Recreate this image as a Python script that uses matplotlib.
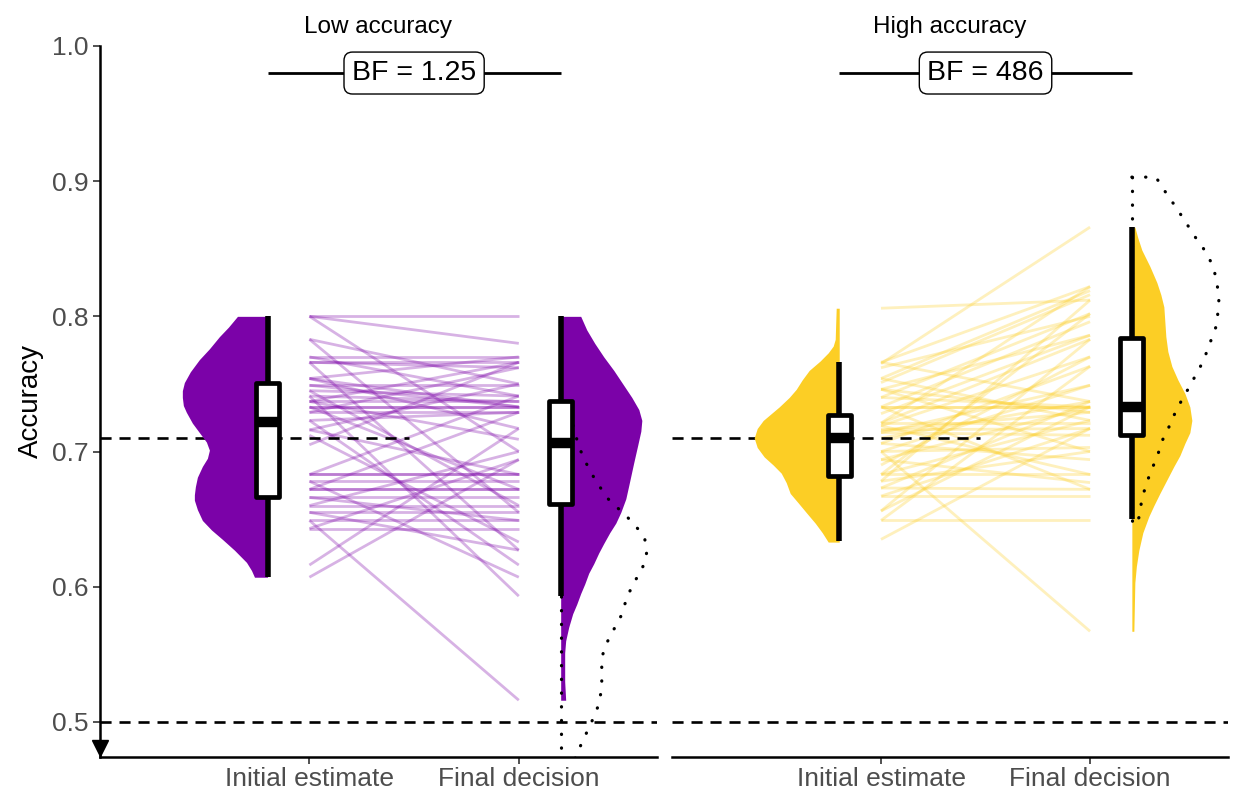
import numpy as np
import matplotlib.pyplot as plt

plt.rcParams['font.family'] = ['Liberation Sans', 'DejaVu Sans']

# groups and phases
conditions = ["Low accuracy", "High accuracy"]
phases = ["Initial estimate", "Final decision"]
colors = ["#7B02A8", "#FCCE25"]
bf_labels = ["BF = 1.25", "BF = 486"]
reference_acc = 0.71
chance_acc = 0.5

# paired participant accuracies
low_initial = [0.800, 0.800, 0.800, 0.783, 0.783, 0.770, 0.770, 0.766, 0.766, 0.766,
               0.754, 0.754, 0.754, 0.749, 0.749, 0.745, 0.745, 0.741, 0.741, 0.737,
               0.737, 0.737, 0.733, 0.733, 0.733, 0.729, 0.729, 0.723, 0.723, 0.716,
               0.716, 0.712, 0.705, 0.683, 0.683, 0.683, 0.678, 0.678, 0.672, 0.672,
               0.672, 0.666, 0.666, 0.660, 0.660, 0.655, 0.655, 0.649, 0.649, 0.643,
               0.643, 0.616, 0.607]
low_final = [0.800, 0.780, 0.700, 0.750, 0.655, 0.770, 0.741, 0.766, 0.762, 0.627,
             0.770, 0.717, 0.733, 0.749, 0.733, 0.741, 0.660, 0.737, 0.593, 0.737,
             0.709, 0.766, 0.733, 0.733, 0.672, 0.729, 0.762, 0.616, 0.729, 0.683,
             0.750, 0.633, 0.766, 0.683, 0.683, 0.741, 0.678, 0.607, 0.672, 0.672,
             0.729, 0.666, 0.649, 0.660, 0.700, 0.655, 0.627, 0.649, 0.516, 0.643,
             0.694, 0.717, 0.694]
high_initial = [0.806, 0.765, 0.766, 0.766, 0.754, 0.754, 0.751, 0.746, 0.746, 0.740,
                0.740, 0.733, 0.733, 0.733, 0.721, 0.721, 0.719, 0.719, 0.716, 0.716,
                0.714, 0.714, 0.706, 0.706, 0.700, 0.700, 0.700, 0.694, 0.694, 0.683,
                0.683, 0.678, 0.678, 0.673, 0.673, 0.667, 0.667, 0.656, 0.656, 0.649,
                0.649, 0.635, 0.683, 0.721, 0.746, 0.728, 0.690, 0.710, 0.733, 0.762]
high_final = [0.812, 0.866, 0.737, 0.822, 0.819, 0.723, 0.816, 0.786, 0.700, 0.802,
              0.733, 0.733, 0.733, 0.796, 0.783, 0.721, 0.770, 0.683, 0.729, 0.717,
              0.749, 0.712, 0.763, 0.694, 0.567, 0.703, 0.749, 0.733, 0.677, 0.683,
              0.723, 0.812, 0.700, 0.672, 0.737, 0.667, 0.717, 0.783, 0.733, 0.649,
              0.763, 0.717, 0.802, 0.822, 0.729, 0.786, 0.770, 0.737, 0.672, 0.800]

# box summaries: whislo, q1, median, q3, whishi
low_initial_box = [0.607, 0.666, 0.722, 0.751, 0.800]
low_final_box = [0.593, 0.661, 0.706, 0.737, 0.800]
high_initial_box = [0.634, 0.682, 0.710, 0.727, 0.766]
high_final_box = [0.650, 0.712, 0.733, 0.784, 0.866]

# density profiles (accuracy grid, density)
low_initial_grid = [0.800, 0.792, 0.785, 0.776, 0.768, 0.759, 0.751, 0.745, 0.740,
                    0.734, 0.729, 0.721, 0.714, 0.707, 0.701, 0.695, 0.689, 0.681,
                    0.674, 0.668, 0.664, 0.657, 0.649, 0.642, 0.635, 0.627, 0.618,
                    0.612, 0.607]
low_initial_dens = [3.0, 3.9, 4.8, 5.8, 6.8, 7.7, 8.3, 8.5, 8.5, 8.4, 8.1, 7.5, 6.8,
                    6.1, 5.8, 6.0, 6.5, 7.0, 7.2, 7.3, 7.3, 7.0, 6.5, 5.6, 4.5, 3.3,
                    2.1, 1.6, 1.3]
low_final_grid = [0.800, 0.790, 0.780, 0.770, 0.760, 0.750, 0.740, 0.731, 0.723, 0.715,
                  0.705, 0.692, 0.675, 0.665, 0.655, 0.647, 0.640, 0.632, 0.625, 0.617,
                  0.610, 0.602, 0.595, 0.587, 0.580, 0.570, 0.560, 0.551, 0.530, 0.516]
low_final_dens = [2.0, 2.6, 3.4, 4.3, 5.3, 6.2, 7.1, 7.8, 8.1, 8.0, 7.7, 7.3, 6.8, 6.5,
                  6.0, 5.5, 4.9, 4.3, 3.8, 3.3, 2.8, 2.4, 2.0, 1.6, 1.2, 0.8, 0.5, 0.4,
                  0.4, 0.5]
high_initial_grid = [0.806, 0.795, 0.783, 0.778, 0.773, 0.767, 0.760, 0.753, 0.746,
                     0.740, 0.733, 0.728, 0.723, 0.717, 0.710, 0.703, 0.696, 0.690,
                     0.684, 0.677, 0.669, 0.662, 0.654, 0.647, 0.640, 0.633]
high_initial_dens = [0.3, 0.35, 0.4, 0.6, 1.1, 1.9, 3.0, 3.7, 4.3, 5.0, 6.0, 6.8, 7.6,
                     8.2, 8.5, 8.2, 7.5, 6.6, 5.8, 5.3, 4.9, 4.1, 3.2, 2.4, 1.7, 1.1]
high_final_grid = [0.866, 0.858, 0.849, 0.837, 0.825, 0.816, 0.807, 0.796, 0.785, 0.774,
                   0.763, 0.753, 0.743, 0.733, 0.723, 0.714, 0.706, 0.697, 0.689, 0.679,
                   0.669, 0.660, 0.652, 0.640, 0.627, 0.615, 0.603, 0.585, 0.567]
high_final_dens = [0.3, 0.6, 1.0, 1.8, 2.5, 2.9, 3.2, 3.3, 3.4, 3.6, 4.0, 4.6, 5.3, 5.8,
                   6.0, 5.8, 5.3, 4.8, 4.2, 3.5, 2.8, 2.2, 1.7, 1.1, 0.7, 0.45, 0.3,
                   0.25, 0.2]

# comparison densities drawn as dotted outlines
low_ref_grid = [0.735, 0.728, 0.720, 0.712, 0.704, 0.697, 0.689, 0.681, 0.674, 0.666,
                0.660, 0.655, 0.648, 0.642, 0.635, 0.626, 0.618, 0.610, 0.603, 0.595,
                0.587, 0.578, 0.571, 0.563, 0.555, 0.547, 0.538, 0.530, 0.521, 0.513,
                0.505, 0.497, 0.489, 0.481, 0.465]
low_ref_dens = [0.5, 0.8, 1.2, 1.5, 1.8, 2.2, 2.7, 3.3, 3.9, 4.6, 5.4, 6.2, 7.1, 7.8,
                8.4, 8.6, 8.4, 7.9, 7.3, 6.8, 6.4, 6.0, 5.5, 4.9, 4.4, 4.1, 4.1, 4.1,
                4.0, 3.8, 3.4, 2.9, 2.4, 1.9, 1.0]
high_ref_grid = [0.903, 0.895, 0.888, 0.881, 0.874, 0.866, 0.859, 0.852, 0.845, 0.837,
                 0.829, 0.820, 0.812, 0.803, 0.794, 0.786, 0.778, 0.770, 0.762, 0.754,
                 0.747, 0.740, 0.732, 0.724, 0.716, 0.709, 0.700, 0.692, 0.684, 0.676,
                 0.668, 0.660, 0.651, 0.645]
high_ref_dens = [2.4, 3.1, 3.7, 4.4, 5.0, 5.7, 6.3, 7.0, 7.6, 8.1, 8.4, 8.6, 8.7, 8.6,
                 8.5, 8.1, 7.7, 7.3, 6.8, 6.2, 5.7, 5.1, 4.6, 4.0, 3.6, 3.1, 2.7, 2.3,
                 1.8, 1.5, 1.1, 0.9, 0.7, 0.0]

panels = [
    dict(init=low_initial, final=low_final, boxes=[low_initial_box, low_final_box],
         vio=[(low_initial_grid, low_initial_dens), (low_final_grid, low_final_dens)],
         ref=(low_ref_grid, low_ref_dens)),
    dict(init=high_initial, final=high_final, boxes=[high_initial_box, high_final_box],
         vio=[(high_initial_grid, high_initial_dens), (high_final_grid, high_final_dens)],
         ref=(high_ref_grid, high_ref_dens)),
]

dens_scale = 10 / 209      # density units -> x units
offset = 0.2               # violin/box shift from the category position
ymin, ymax = 0.474, 1.0
dash = (0, (4.2, 3))
dots = (0, (0.1, 4.2))

fig = plt.figure(figsize=(12.38, 7.94), dpi=100)
ax_l = fig.add_axes([100 / 1238, 37 / 794, 557 / 1238, 711 / 794])
ax_r = fig.add_axes([672 / 1238, 37 / 794, 556 / 1238, 711 / 794])
axes = [ax_l, ax_r]

for i, ax in enumerate(axes):
    p = panels[i]
    col = colors[i]
    x_init, x_final = 1, 2

    # paired lines
    for a, b in zip(p["init"], p["final"]):
        ax.plot([x_init, x_final], [a, b], color=col, alpha=0.3, lw=2.0, zorder=1,
                solid_capstyle="butt")

    # reference lines
    ax.hlines(reference_acc, 0, 1.475, colors="black", lw=1.9, linestyles=dash, zorder=2)
    ax.axhline(chance_acc, color="black", lw=1.9, ls=dash, zorder=2)

    # half violins: initial to the left, final to the right
    g, d = np.array(p["vio"][0][0]), np.array(p["vio"][0][1]) * dens_scale
    ax.fill_betweenx(g, x_init - offset - d, x_init - offset, color=col, lw=0, zorder=3)
    g, d = np.array(p["vio"][1][0]), np.array(p["vio"][1][1]) * dens_scale
    ax.fill_betweenx(g, x_final + offset, x_final + offset + d, color=col, lw=0, zorder=3)

    # dotted comparison density
    g, d = np.array(p["ref"][0]), np.array(p["ref"][1]) * dens_scale
    base = x_final + offset
    ax.plot(np.concatenate([[base], base + d]), np.concatenate([[g[0]], g]),
            color="black", lw=2.3, ls=dots, dash_capstyle="round", zorder=4)
    ax.plot([base, base], [g[0], g[-1]], color="black", lw=2.3, ls=dots,
            dash_capstyle="round", zorder=4)

    # boxplots
    stats = []
    for b in p["boxes"]:
        stats.append(dict(whislo=b[0], q1=b[1], med=b[2], q3=b[3], whishi=b[4], fliers=[]))
    ax.bxp(stats, positions=[x_init - offset, x_final + offset], widths=0.11,
           showfliers=False, showcaps=False, patch_artist=True, manage_ticks=False,
           boxprops=dict(facecolor="white", edgecolor="black", linewidth=3.4,
                         joinstyle="round"),
           whiskerprops=dict(color="black", linewidth=4.0, solid_capstyle="butt"),
           medianprops=dict(color="black", linewidth=7.5, solid_capstyle="butt"),
           zorder=5)

    # Bayes factor bracket
    ax.hlines(0.98, x_init - offset, x_final + offset, colors="black", lw=2.0, zorder=5)
    ax.text(1.5, 0.98, bf_labels[i], ha="center", va="center", fontsize=20.5, zorder=6,
            bbox=dict(boxstyle="round,pad=0.28,rounding_size=0.3", fc="white",
                      ec="black", lw=1.0))

    ax.set_xlim(0, 2.66)
    ax.set_ylim(ymin, ymax)
    ax.set_title(conditions[i], fontsize=17.5, pad=9)
    ax.set_xticks([x_init, x_final], phases)
    ax.tick_params(axis="x", length=5, width=1.2, color="#333333",
                   labelcolor="#4D4D4D", labelsize=19, pad=2)
    for s in ["top", "right"]:
        ax.spines[s].set_visible(False)
    ax.spines["bottom"].set_linewidth(1.8)
    ax.patch.set_alpha(0)

# y axis only on the left panel
ax_l.spines["left"].set_linewidth(1.8)
ax_l.set_yticks([0.5, 0.6, 0.7, 0.8, 0.9, 1.0])
ax_l.set_yticklabels(["0.5", "0.6", "0.7", "0.8", "0.9", "1.0"])
ax_l.tick_params(axis="y", length=5, width=1.2, color="#333333",
                 labelcolor="#4D4D4D", labelsize=19, pad=3)
ax_l.set_ylabel("Accuracy", fontsize=20, labelpad=6)
ax_l.plot([0], [0.012], marker="v", ms=12, color="black", transform=ax_l.transAxes,
          clip_on=False, zorder=7)

ax_r.spines["left"].set_visible(False)
ax_r.set_yticks([])

fig.savefig("out.png", dpi=100)
